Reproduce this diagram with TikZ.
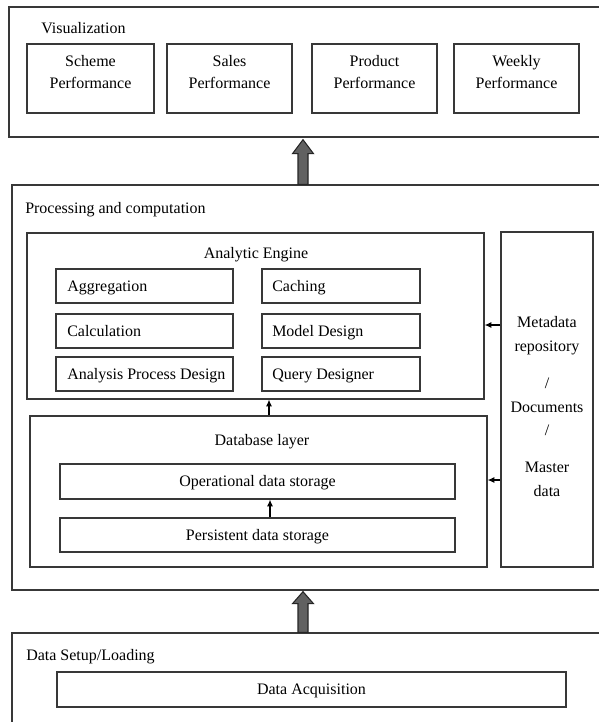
\documentclass[tikz,border=0pt]{standalone}
\usepackage{fontspec}
\setmainfont{Liberation Serif}
\usetikzlibrary{fit,calc,arrows.meta}
\begin{document}
\begin{tikzpicture}[x=0.75pt,y=-0.75pt,
  box/.style={draw=black!78, line width=1pt, inner sep=0pt, fit={#1}},
  txtm/.style={inner sep=0pt, font=\fontsize{12}{16.5}\selectfont, text=black},
  txt/.style={txtm, text height=8pt, text depth=2.5pt, yshift=-1.5pt},
  small/.style={-{Latex[length=5pt,width=4.5pt]}, line width=0.8pt, black},
  big/.style={draw=black!85, line width=0.8pt, fill=black!62}]
\useasboundingbox (0,0) rectangle (599,722);
\clip (0,0) rectangle (599,722);
\fill[white] (0,0) rectangle (599,722);
\coordinate (ax) at (303,0);
\coordinate (sx1) at (269,0);
\coordinate (sx2) at (270,0);
\coordinate (my1) at (0,325);
\coordinate (my2) at (0,480);

% Visualization layer
\node[box={(9,7) (640,137)}] (vis) {};
\node[txt, anchor=west] (vislbl) at (41,28) {Visualization};
\node[box={(27,44) (154,113)}] (scheme) {};
\node[box={(167,44) (292,113)}] (sales) {};
\node[box={(312,44) (437,113)}] (product) {};
\node[box={(454,44) (579,113)}] (weekly) {};
\node[txtm, align=center] (schemet) at (90.5,72.5) {Scheme\\Performance};
\node[txtm, align=center] (salest) at (229.5,72.5) {Sales\\Performance};
\node[txtm, align=center] (productt) at (374.5,72.5) {Product\\Performance};
\node[txtm, align=center] (weeklyt) at (516.5,72.5) {Weekly\\Performance};

% Processing layer
\node[box={(12,185) (640,590)}] (proc) {};
\node[txt, anchor=west] (proclbl) at (25,208) {Processing and computation};
\node[box={(27,233) (484,399)}] (ae) {};
\node[txt] (aelbl) at (256,253) {Analytic Engine};
\node[box={(56,269) (233,303)}] (agg) {};
\node[box={(56,314) (233,348)}] (calc) {};
\node[box={(56,357) (233,391)}] (apd) {};
\node[box={(262,269) (420,303)}] (cach) {};
\node[box={(262,314) (420,348)}] (model) {};
\node[box={(262,357) (420,391)}] (query) {};
\node[txt, anchor=west] (aggt) at (67,286) {Aggregation};
\node[txt, anchor=west] (calct) at (67,331) {Calculation};
\node[txt, anchor=west] (apdt) at (67,374) {Analysis Process Design};
\node[txt, anchor=west] (cacht) at (272,286) {Caching};
\node[txt, anchor=west] (modelt) at (272,331) {Model Design};
\node[txt, anchor=west] (queryt) at (272,374) {Query Designer};

\node[box={(30,416) (487,567)}] (db) {};
\node[txt] (dblbl) at (262,440) {Database layer};
\node[box={(60,464) (455,499)}] (ods) {};
\node[box={(60,518) (455,552)}] (pds) {};
\node[txt] (odst) at (257.5,481) {Operational data storage};
\node[txt] (pdst) at (257.5,535) {Persistent data storage};

\node[box={(501,232) (593,567)}] (meta) {};
\node[txt] at (547,322) {Metadata};
\node[txt] at (547,346) {repository};
\node[txt] at (547,383) {/};
\node[txt] at (547,407) {Documents};
\node[txt] at (547,430) {/};
\node[txt] at (547,467) {Master};
\node[txt] at (547,491) {data};

% Data setup layer
\node[box={(12,633) (640,740)}] (setup) {};
\node[txt, anchor=west] (setuplbl) at (26,655) {Data Setup/Loading};
\node[box={(57,672) (566,707)}] (acq) {};
\node[txt] (acqt) at (311.5,689) {Data Acquisition};

% small connectors
\draw[small] (db.north -| sx1) -- (ae.south -| sx1);
\draw[small] (pds.north -| sx2) -- (ods.south -| sx2);
\draw[small] (meta.west |- my1) -- (ae.east |- my1);
\draw[small] (meta.west |- my2) -- (db.east |- my2);

% big arrows
\draw[big] ($(proc.north -| ax)+(-5,0)$) -- ($(vis.south -| ax)+(-5,16)$)
  -- ($(vis.south -| ax)+(-10.5,16)$) -- ($(vis.south -| ax)+(0,2)$)
  -- ($(vis.south -| ax)+(10.5,16)$) -- ($(vis.south -| ax)+(5,16)$)
  -- ($(proc.north -| ax)+(5,0)$) -- cycle;
\draw[big] ($(setup.north -| ax)+(-5,0)$) -- ($(proc.south -| ax)+(-5,13)$)
  -- ($(proc.south -| ax)+(-10.5,13)$) -- ($(proc.south -| ax)+(0,1)$)
  -- ($(proc.south -| ax)+(10.5,13)$) -- ($(proc.south -| ax)+(5,13)$)
  -- ($(setup.north -| ax)+(5,0)$) -- cycle;
\end{tikzpicture}
\end{document}
